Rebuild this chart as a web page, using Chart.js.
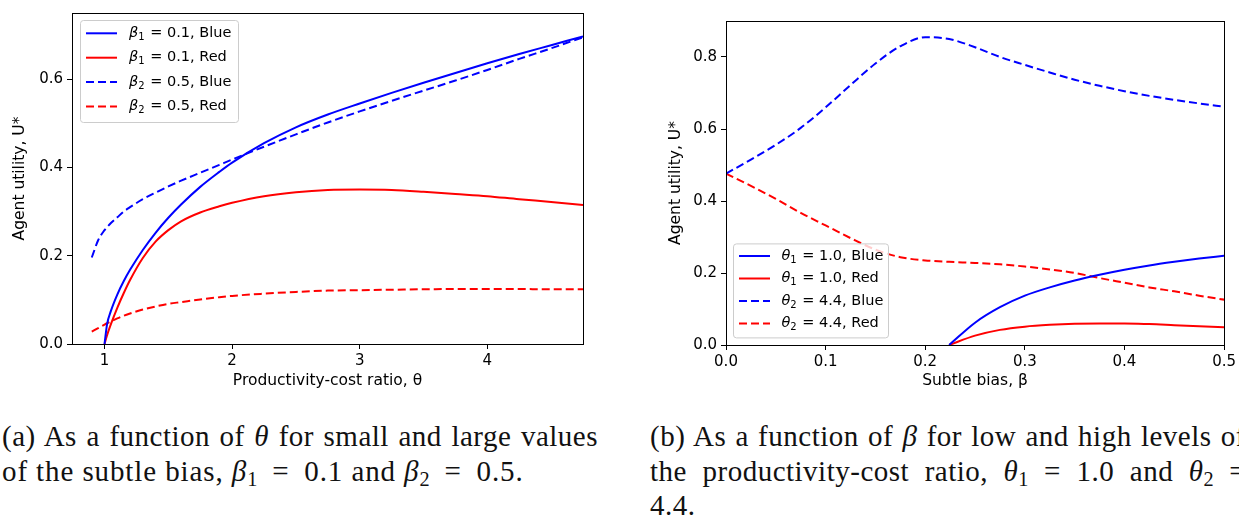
<!DOCTYPE html>
<html>
<head>
<meta charset="utf-8">
<script src="https://cdn.jsdelivr.net/npm/chart.js@4.4.0/dist/chart.umd.min.js"></script>
<style>
  html, body { margin: 0; padding: 0; background: #fff; width: 1239px; height: 517px; overflow: hidden; }
  .box { position: absolute; top: 0; height: 400px; }
  .cap { position: absolute; font-family: "Liberation Serif", serif; font-size: 29px; color: #111; white-space: nowrap; }
  .cap div { height: 34.5px; line-height: 34.5px; letter-spacing: 0.5px; }
  .cap .j { text-align: justify; text-align-last: justify; }
  .cap .w { letter-spacing: 0.9px; }
  .cap sub { font-size: 0.7em; vertical-align: -0.25em; line-height: 0; letter-spacing: 0; }
</style>
</head>
<body>
<div class="box" style="left:0;width:620px"><canvas id="left"></canvas></div>
<div class="box" style="left:620px;width:619px"><canvas id="right"></canvas></div>

<div class="cap" style="left:2px;top:419px;width:596px">
  <div class="j">(a) As a function of <i>θ</i> for small and large values</div>
  <div class="w">of the subtle bias, <i>β</i><sub>1</sub>&thinsp; = &thinsp;0.1 and <i>β</i><sub>2</sub>&thinsp; = &thinsp;0.5.</div>
</div>
<div class="cap" style="left:650px;top:419px;width:596px">
  <div class="j">(b) As a function of <i>β</i> for low and high levels of</div>
  <div class="j">the productivity-cost ratio, <i>θ</i><sub>1</sub> = 1.0 and <i>θ</i><sub>2</sub> =</div>
  <div>4.4.</div>
</div>

<script>
// (a) utility against productivity-cost ratio theta
const thetaGrid = [0.9, 0.95, 1.0, 1.02, 1.05, 1.1, 1.15, 1.2, 1.3, 1.4, 1.5, 1.6, 1.75, 1.9, 2.0,
                   2.25, 2.5, 2.75, 3.0, 3.25, 3.5, 3.75, 4.0, 4.25, 4.5, 4.75]
const blueBeta1 = [null, null, 0, 0.045, 0.075, 0.112, 0.142, 0.168, 0.213, 0.252, 0.286, 0.316, 0.356, 0.39, 0.411,
                   0.455, 0.491, 0.52, 0.545, 0.569, 0.592, 0.614, 0.636, 0.657, 0.677, 0.697]
const redBeta1  = [null, null, 0, 0.02, 0.045, 0.082, 0.115, 0.145, 0.195, 0.232, 0.258, 0.278, 0.298, 0.312, 0.32,
                   0.335, 0.344, 0.349, 0.35, 0.349, 0.345, 0.34, 0.335, 0.328, 0.322, 0.315]
const blueBeta2 = [0.196, 0.235, 0.258, 0.265, 0.274, 0.287, 0.3, 0.31, 0.328, 0.343, 0.357, 0.37, 0.388, 0.406, 0.418,
                   0.447, 0.475, 0.502, 0.527, 0.551, 0.574, 0.597, 0.621, 0.646, 0.67, 0.695]
const redBeta2  = [0.028, 0.036, 0.044, 0.047, 0.051, 0.058, 0.064, 0.069, 0.078, 0.085, 0.091, 0.095, 0.101, 0.106, 0.109,
                   0.114, 0.118, 0.121, 0.122, 0.123, 0.124, 0.1245, 0.1245, 0.1245, 0.124, 0.124]
const thetaTicks = [1, 2, 3, 4]
const utilTicksA = [0, 0.2, 0.4, 0.6]

// (b) utility against subtle bias beta
const betaGrid = [0, 0.025, 0.05, 0.075, 0.1, 0.125, 0.15, 0.175, 0.2, 0.224, 0.25, 0.275, 0.3,
                  0.325, 0.35, 0.375, 0.4, 0.425, 0.45, 0.475, 0.5]
const blueTheta1 = [null, null, null, null, null, null, null, null, null, 0, 0.062, 0.105, 0.137,
                    0.16, 0.179, 0.195, 0.209, 0.221, 0.231, 0.24, 0.248]
const redTheta1  = [null, null, null, null, null, null, null, null, null, 0, 0.026, 0.042, 0.051,
                    0.056, 0.059, 0.06, 0.0595, 0.058, 0.055, 0.052, 0.049]
const blueTheta2 = [0.476, 0.515, 0.556, 0.603, 0.66, 0.722, 0.782, 0.83, 0.855, 0.85, 0.827, 0.8, 0.778,
                    0.757, 0.737, 0.72, 0.705, 0.692, 0.681, 0.671, 0.662]
const redTheta2  = [0.476, 0.442, 0.406, 0.367, 0.332, 0.297, 0.265, 0.244, 0.235, 0.231, 0.228, 0.224, 0.218,
                    0.21, 0.2, 0.186, 0.173, 0.16, 0.149, 0.137, 0.126]
const betaTicks = [0, 0.1, 0.2, 0.3, 0.4, 0.5]
const utilTicksB = [0, 0.2, 0.4, 0.6, 0.8]

const BLUE = '#0000ff'
const RED = '#ff0000'
const FONT = 'DejaVu Sans'

function series(label, xs, ys, color, dashed) {
    return {
        label,
        data: xs.map((x, i) => ({ x, y: ys[i] })),
        borderColor: color,
        borderWidth: 2,
        borderDash: dashed ? [8, 4] : [],
        pointRadius: 0,
        fill: false,
        cubicInterpolationMode: 'monotone'
    }
}

// matplotlib style frame round the plot area
const framePlugin = {
    id: 'frame',
    afterDatasetsDraw(chart) {
        const { ctx, chartArea: a } = chart
        ctx.save()
        ctx.strokeStyle = '#000'
        ctx.lineWidth = 1
        ctx.strokeRect(Math.round(a.left) + 0.5, Math.round(a.top) + 0.5,
            Math.round(a.right - a.left), Math.round(a.bottom - a.top))
        ctx.restore()
    }
}

// legend box drawn inside the plot, with italic symbol and subscript
const SUBS = { '₁': '1', '₂': '2' }
const boxLegendPlugin = {
    id: 'boxLegend',
    afterDraw(chart, args, o) {
        const { ctx, chartArea: a } = chart
        const x0 = a.left + o.dx
        const y0 = o.bottom ? a.bottom - o.dy - o.h : a.top + o.dy
        ctx.save()
        ctx.beginPath()
        ctx.roundRect(x0 + 0.5, y0 + 0.5, o.w, o.h, 3)
        ctx.fillStyle = 'rgba(255,255,255,0.8)'
        ctx.fill()
        ctx.strokeStyle = '#cccccc'
        ctx.lineWidth = 1
        ctx.stroke()
        chart.data.datasets.forEach((ds, i) => {
            const y = y0 + o.first + i * o.row
            ctx.beginPath()
            ctx.setLineDash(ds.borderDash)
            ctx.strokeStyle = ds.borderColor
            ctx.lineWidth = ds.borderWidth
            ctx.moveTo(x0 + 6, y)
            ctx.lineTo(x0 + 6 + o.sample, y)
            ctx.stroke()
            ctx.setLineDash([])

            let x = x0 + o.textX
            ctx.fillStyle = '#000'
            ctx.textBaseline = 'middle'
            ctx.font = `italic ${o.size}px "${FONT}"`
            ctx.fillText(ds.label[0], x, y)
            x += ctx.measureText(ds.label[0]).width
            ctx.font = `${Math.round(o.size * 0.7)}px "${FONT}"`
            const sub = SUBS[ds.label[1]]
            ctx.fillText(sub, x, y + 4)
            x += ctx.measureText(sub).width + 1
            ctx.font = `${o.size}px "${FONT}"`
            ctx.fillText(ds.label.slice(2), x, y)
        })
        ctx.restore()
    }
}

function makeChart(id, datasets, cfg) {
    const tickFont = { family: FONT, size: 15 }
    const titleFont = { family: FONT, size: 15.5 }
    return new Chart(document.getElementById(id), {
        type: 'line',
        data: { datasets },
        plugins: [framePlugin, boxLegendPlugin],
        options: {
            responsive: true,
            maintainAspectRatio: false,
            animation: false,
            layout: { padding: cfg.padding },
            plugins: {
                legend: { display: false },
                tooltip: { enabled: false },
                boxLegend: cfg.legend
            },
            scales: {
                x: {
                    type: 'linear',
                    min: cfg.xMin,
                    max: cfg.xMax,
                    afterBuildTicks: s => { s.ticks = cfg.xTicks.map(v => ({ value: v })) },
                    afterFit: s => { s.height = cfg.xHeight },
                    ticks: { font: tickFont, color: '#000', padding: 3, maxRotation: 0, autoSkip: false,
                             callback: cfg.xFormat },
                    grid: { drawOnChartArea: false, drawTicks: true, tickLength: 5, color: '#000' },
                    border: { display: false },
                    title: { display: true, text: cfg.xTitle, color: '#000',
                             font: titleFont, padding: { top: 0, bottom: 9.7 } }
                },
                y: {
                    type: 'linear',
                    min: 0,
                    max: cfg.yMax,
                    afterBuildTicks: s => { s.ticks = cfg.yTicks.map(v => ({ value: v })) },
                    afterFit: s => { s.width = cfg.yWidth },
                    ticks: { font: tickFont, color: '#000', padding: 4, callback: v => v.toFixed(1) },
                    grid: { drawOnChartArea: false, drawTicks: true, tickLength: 5, color: '#000' },
                    border: { display: false },
                    title: { display: true, text: 'Agent utility, U*', color: '#000',
                             font: titleFont, padding: { top: cfg.yTitlePad, bottom: 0 } }
                }
            }
        }
    })
}

makeChart('left', [
    series('β₁ = 0.1, Blue', thetaGrid, blueBeta1, BLUE, false),
    series('β₁ = 0.1, Red', thetaGrid, redBeta1, RED, false),
    series('β₂ = 0.5, Blue', thetaGrid, blueBeta2, BLUE, true),
    series('β₂ = 0.5, Red', thetaGrid, redBeta2, RED, true)
], {
    padding: { left: 0, right: 37, top: 13, bottom: 0 },
    xMin: 0.745, xMax: 4.75, xTicks: thetaTicks, xFormat: v => String(v),
    xTitle: 'Productivity-cost ratio, θ', xHeight: 56,
    yMax: 0.75, yTicks: utilTicksA, yWidth: 72, yTitlePad: 10.7,
    legend: { dx: 8, dy: 7, bottom: false, w: 158, h: 102, first: 13.3, row: 24.4, sample: 31, textX: 49, size: 14.5 }
})

makeChart('right', [
    series('θ₁ = 1.0, Blue', betaGrid, blueTheta1, BLUE, false),
    series('θ₁ = 1.0, Red', betaGrid, redTheta1, RED, false),
    series('θ₂ = 4.4, Blue', betaGrid, blueTheta2, BLUE, true),
    series('θ₂ = 4.4, Red', betaGrid, redTheta2, RED, true)
], {
    padding: { left: 0, right: 13, top: 21, bottom: 0 },
    xMin: 0, xMax: 0.5, xTicks: betaTicks, xFormat: v => v.toFixed(1),
    xTitle: 'Subtle bias, β', xHeight: 55,
    yMax: 0.9, yTicks: utilTicksB, yWidth: 106, yTitlePad: 46.2,
    legend: { dx: 7, dy: 7.6, bottom: true, w: 155, h: 94, first: 12.6, row: 22.5, sample: 31, textX: 48.4, size: 14.5 }
})
</script>
</body>
</html>
